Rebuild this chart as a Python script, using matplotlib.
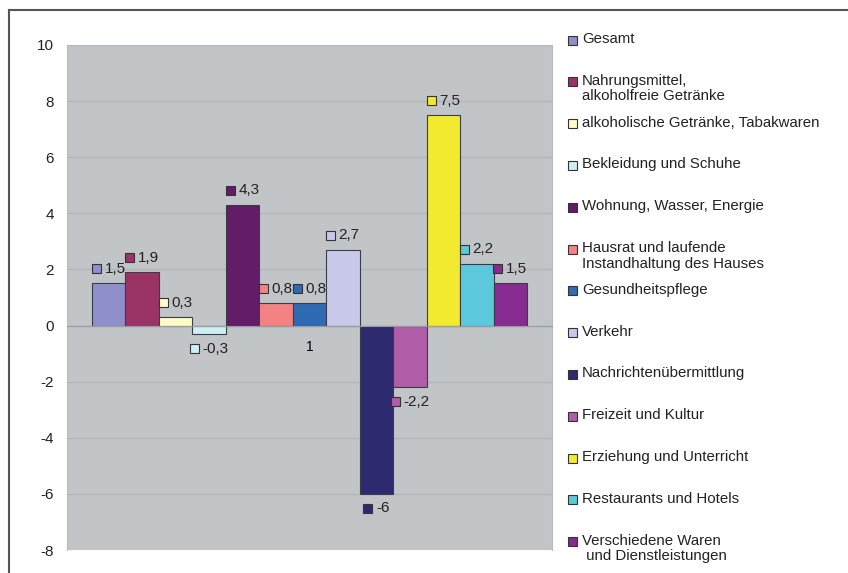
import numpy as np
import matplotlib.pyplot as plt
from matplotlib.offsetbox import AnnotationBbox, HPacker, DrawingArea, TextArea
from matplotlib.patches import Rectangle
from matplotlib.lines import Line2D

plt.rcParams['font.family'] = ['Liberation Sans', 'DejaVu Sans']

# Daten
categories = ["1"]
series = [
    "Gesamt",
    "Nahrungsmittel,\nalkoholfreie Getränke",
    "alkoholische Getränke, Tabakwaren",
    "Bekleidung und Schuhe",
    "Wohnung, Wasser, Energie",
    "Hausrat und laufende\nInstandhaltung des Hauses",
    "Gesundheitspflege",
    "Verkehr",
    "Nachrichtenübermittlung",
    "Freizeit und Kultur",
    "Erziehung und Unterricht",
    "Restaurants und Hotels",
    "Verschiedene Waren\n und Dienstleistungen",
]
values = [1.5, 1.9, 0.3, -0.3, 4.3, 0.8, 0.8, 2.7, -6, -2.2, 7.5, 2.2, 1.5]
colors = ["#8f8fcc", "#9b3466", "#fdfcc8", "#ccf0f4", "#621c68", "#f48282",
          "#2f6bb5", "#c8c8ea", "#2e2a70", "#b05ca8", "#f2ea2e", "#5cc8dc",
          "#862c90"]
yticks = [-8, -6, -4, -2, 0, 2, 4, 6, 8, 10]

W, H = 848, 573
fig = plt.figure(figsize=(W / 100, H / 100), dpi=100)
ax = fig.add_axes([67 / W, 1 - 550 / H, (552 - 67) / W, (550 - 45) / H])
ax.set_facecolor("#c2c5c8")

x = np.arange(len(values))
ax.bar(x, values, width=1.0, color=colors, edgecolor="#3c3c46", linewidth=0.8, zorder=3)

ax.set_ylim(-8, 10)
ax.set_xlim(-1.247, 13.247)
ax.set_yticks(yticks)
ax.set_yticklabels([str(t) for t in yticks], fontsize=11, color="#222222")
ax.yaxis.grid(True, color="#b2b5b8", linewidth=0.9, zorder=0)
ax.tick_params(axis="y", length=0, pad=9.5)

ax.set_xticks([6])
ax.set_xticklabels(categories, fontsize=11, color="#222222")
ax.spines["bottom"].set_position(("data", 0))
ax.spines["bottom"].set_color("#9a9da0")
ax.spines["bottom"].set_zorder(4)
ax.tick_params(axis="x", length=0, pad=10.5)
for s in ["top", "right", "left"]:
    ax.spines[s].set_color("#b8bbbe")

# Datenbeschriftungen mit Farbkästchen
def fmt(v):
    return ("%g" % v).replace(".", ",")

for xi, v, c in zip(x, values, colors):
    da = DrawingArea(6.5, 6.5, 0, 0)
    da.add_artist(Rectangle((0, 0), 6.5, 6.5, facecolor=c, edgecolor="#333333", linewidth=0.8))
    ta = TextArea(fmt(v), textprops=dict(fontsize=11, color="#222222"))
    box = HPacker(children=[da, ta], align="center", pad=0, sep=2.5)
    off = 10.5 if v >= 0 else -10.5
    ab = AnnotationBbox(box, (xi, v), xybox=(0, off), xycoords="data",
                        boxcoords="offset points", frameon=False,
                        box_alignment=(0.5, 0.5), zorder=5)
    ax.add_artist(ab)

# Legende
for i, (lab, c) in enumerate(zip(series, colors)):
    ypx = 40 + 41.8 * i
    fig.patches.append(Rectangle((568 / W, 1 - (ypx + 4.5) / H), 9 / W, 9 / H,
                                 transform=fig.transFigure, facecolor=c,
                                 edgecolor="#333333", linewidth=0.8))
    fig.text(582 / W, 1 - (ypx - 8) / H, lab, fontsize=10.8, color="#222222",
             va="top", ha="left", linespacing=1.15)

# Rahmen
fig.add_artist(Line2D([9 / W, 1], [1 - 10 / H, 1 - 10 / H], color="#555555", linewidth=1.5))
fig.add_artist(Line2D([9 / W, 9 / W], [1 - 10 / H, 0], color="#555555", linewidth=1.5))

fig.savefig("out.png", dpi=100)
